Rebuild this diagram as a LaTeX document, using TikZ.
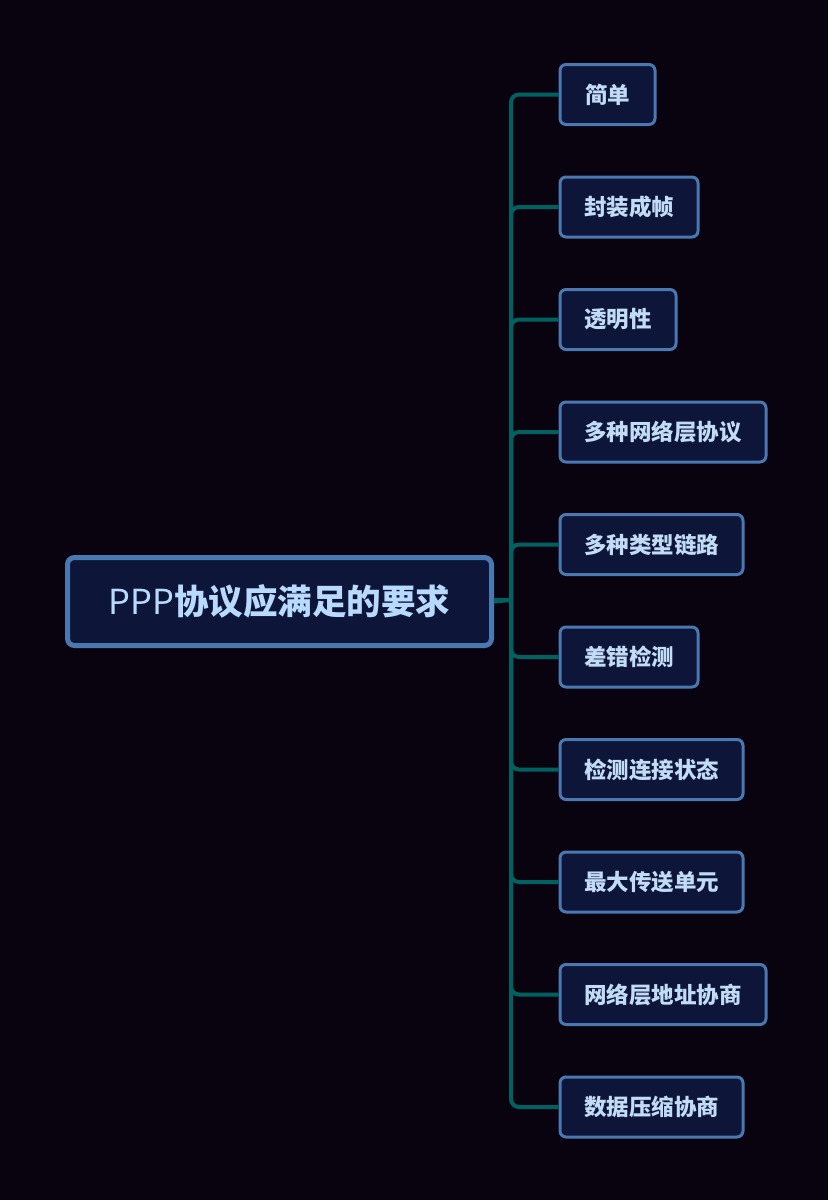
\documentclass[tikz,border=0pt]{standalone}
\usepackage{fontspec}
\newfontfamily\cjk{Noto Sans CJK SC}
\definecolor{bgc}{HTML}{09030F}
\definecolor{boxfill}{HTML}{0D1539}
\definecolor{boxline}{HTML}{4A78B0}
\definecolor{txt}{HTML}{C2DCF8}
\definecolor{roottxt}{HTML}{B8DAFF}
\definecolor{teal}{HTML}{006260}
\tikzset{
  childbox/.style={draw=boxline, line width=3pt, fill=boxfill, rounded corners=6pt,
    minimum height=60pt, inner sep=0pt, anchor=west, text=txt,
    font=\cjk\bfseries\fontsize{22.5pt}{26pt}\selectfont},
  rootbox/.style={draw=boxline, line width=5pt, fill=boxfill, rounded corners=7pt,
    minimum width=424pt, minimum height=88pt, inner sep=0pt, text=roottxt,
    font=\cjk\fontsize{34.5pt}{40pt}\selectfont},
  conn/.style={draw=teal, line width=4pt, rounded corners=8pt}
}
\begin{document}
\begin{tikzpicture}[x=1pt,y=-1pt]
\fill[bgc] (0,0) rectangle (828,1200);
\useasboundingbox (0,0) rectangle (828,1200);
\coordinate (trunk) at (511,600);
\draw[conn] (511,600) -- (494,600);
\node[rootbox] (root) at (279.5,601.5) {PPP{\bfseries 协议应满足的要求}};
\node[childbox, minimum width=95pt]  (c1)  at (558.5,94.5)  {简单};
\node[childbox, minimum width=138pt] (c2)  at (558.5,207)   {封装成帧};
\node[childbox, minimum width=116pt] (c3)  at (558.5,319.5) {透明性};
\node[childbox, minimum width=206pt] (c4)  at (558.5,432)   {多种网络层协议};
\node[childbox, minimum width=183pt] (c5)  at (558.5,544.5) {多种类型链路};
\node[childbox, minimum width=138pt] (c6)  at (558.5,657)   {差错检测};
\node[childbox, minimum width=183pt] (c7)  at (558.5,769.5) {检测连接状态};
\node[childbox, minimum width=183pt] (c8)  at (558.5,882)   {最大传送单元};
\node[childbox, minimum width=206pt] (c9)  at (558.5,994.5) {网络层地址协商};
\node[childbox, minimum width=183pt] (c10) at (558.5,1107)  {数据压缩协商};
\draw[conn] (root.east) -- (trunk);
\foreach \c in {c1,c2,c3,c4,c5,c6,c7,c8,c9,c10}
  \draw[conn] (trunk) |- (\c.west);
\end{tikzpicture}
\end{document}
